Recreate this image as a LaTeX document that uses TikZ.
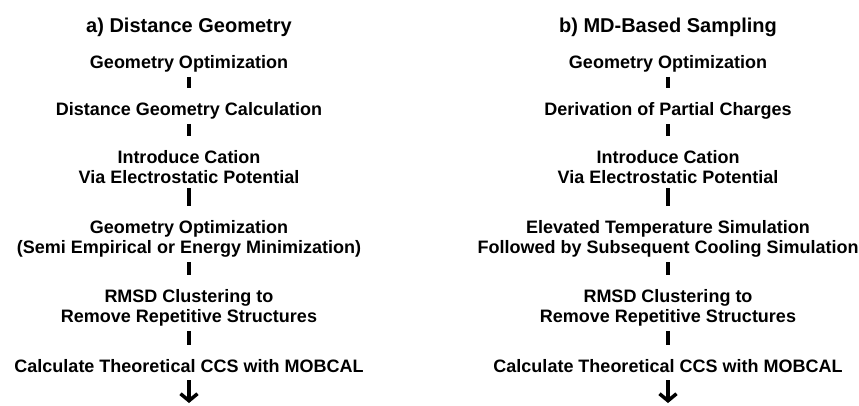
\documentclass[tikz,border=0pt]{standalone}
\usepackage{fontspec}
\setmainfont{Liberation Sans}
\usetikzlibrary{arrows.meta}

\begin{document}
\begin{tikzpicture}[x=1pt,y=-1pt,
  head/.style={font=\fontsize{20}{24}\selectfont\bfseries,inner sep=0pt,anchor=base},
  stage/.style={font=\fontsize{18}{20}\selectfont\bfseries,align=center,inner sep=0pt,anchor=base},
  bar/.style={line width=4pt,shorten <=5pt,shorten >=14pt},
  down/.style={line width=3.5pt,shorten <=8pt,-{Straight Barb[length=7pt,width=17pt]}}]
 \useasboundingbox (0,0) rectangle (859,405);
 % a) distance geometry
 \node[head] (ta) at (189,32) {a) Distance Geometry};
 \node[stage] (a1) at (189,68) {Geometry Optimization};
 \node[stage] (a2) at (189,115) {Distance Geometry Calculation};
 \node[stage] (a3) at (189,183) {Introduce Cation\\Via Electrostatic Potential};
 \node[stage] (a4) at (189,253) {Geometry Optimization\\(Semi Empirical or Energy Minimization)};
 \node[stage] (a5) at (189,322) {RMSD Clustering to\\Remove Repetitive Structures};
 \node[stage] (a6) at (189,372) {Calculate Theoretical CCS with MOBCAL};
 \coordinate (ea) at (189,403);
 \draw[bar] (a1) -- (a2); \draw[bar] (a2) -- (a3); \draw[bar] (a3) -- (a4); \draw[bar] (a4) -- (a5); \draw[bar] (a5) -- (a6);
 \draw[down] (a6) -- (ea);
 % b) md-based sampling
 \node[head] (tb) at (668,32) {b) MD-Based Sampling};
 \node[stage] (b1) at (668,68) {Geometry Optimization};
 \node[stage] (b2) at (668,115) {Derivation of Partial Charges};
 \node[stage] (b3) at (668,183) {Introduce Cation\\Via Electrostatic Potential};
 \node[stage] (b4) at (668,253) {Elevated Temperature Simulation\\Followed by Subsequent Cooling Simulation};
 \node[stage] (b5) at (668,322) {RMSD Clustering to\\Remove Repetitive Structures};
 \node[stage] (b6) at (668,372) {Calculate Theoretical CCS with MOBCAL};
 \coordinate (eb) at (668,403);
 \draw[bar] (b1) -- (b2); \draw[bar] (b2) -- (b3); \draw[bar] (b3) -- (b4); \draw[bar] (b4) -- (b5); \draw[bar] (b5) -- (b6);
 \draw[down] (b6) -- (eb);
\end{tikzpicture}
\end{document}
